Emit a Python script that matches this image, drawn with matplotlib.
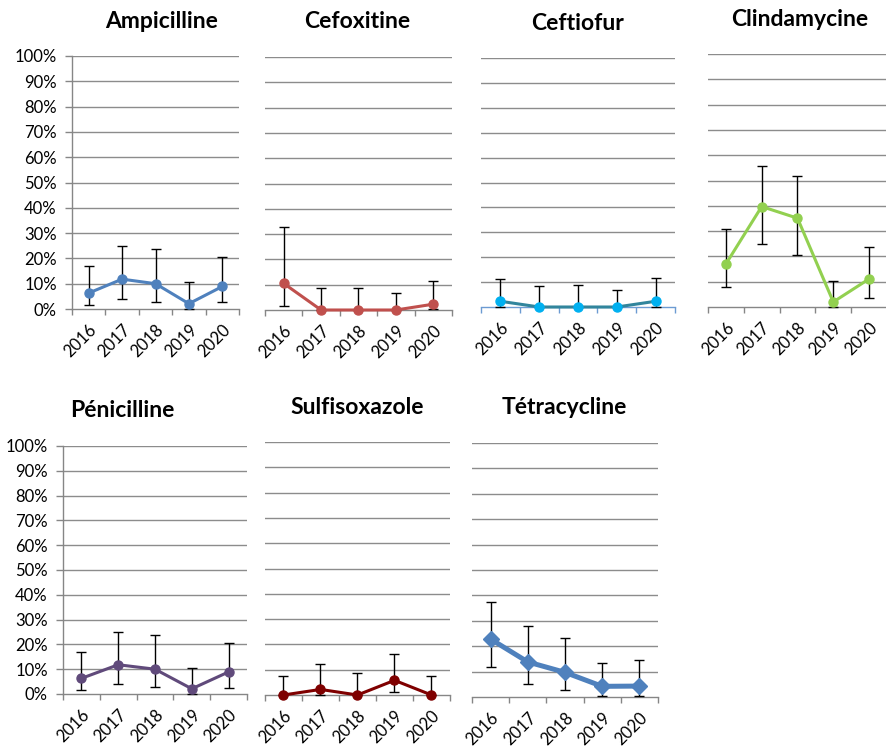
import matplotlib
matplotlib.use("Agg")
import matplotlib.pyplot as plt
from matplotlib.ticker import FixedLocator, FuncFormatter

W, H = 887, 747

years = ["2016", "2017", "2018", "2019", "2020"]

ampicilline = [0.063, 0.118, 0.100, 0.021, 0.089]
ampicilline_lo = [0.016, 0.040, 0.029, 0.000, 0.026]
ampicilline_hi = [0.171, 0.250, 0.238, 0.105, 0.207]

cefoxitine = [0.105, 0.000, 0.000, 0.000, 0.023]
cefoxitine_lo = [0.016, 0.000, 0.000, 0.000, 0.003]
cefoxitine_hi = [0.327, 0.088, 0.088, 0.069, 0.114]

ceftiofur = [0.023, 0.000, 0.000, 0.000, 0.023]
ceftiofur_lo = [0.000, 0.000, 0.000, 0.000, 0.000]
ceftiofur_hi = [0.111, 0.083, 0.088, 0.069, 0.116]

clindamycine = [0.170, 0.397, 0.351, 0.020, 0.111]
clindamycine_lo = [0.078, 0.249, 0.205, 0.000, 0.037]
clindamycine_hi = [0.308, 0.557, 0.517, 0.104, 0.236]

penicilline = [0.063, 0.118, 0.100, 0.021, 0.089]
penicilline_lo = [0.016, 0.040, 0.029, 0.000, 0.026]
penicilline_hi = [0.171, 0.250, 0.238, 0.105, 0.207]

sulfisoxazole = [0.000, 0.022, 0.000, 0.058, 0.000]
sulfisoxazole_lo = [0.000, 0.000, 0.000, 0.012, 0.000]
sulfisoxazole_hi = [0.075, 0.122, 0.087, 0.162, 0.076]

tetracycline = [0.228, 0.138, 0.097, 0.042, 0.043]
tetracycline_lo = [0.117, 0.050, 0.027, 0.005, 0.005]
tetracycline_hi = [0.373, 0.279, 0.234, 0.134, 0.147]

panels = [
    # title, values, lo, hi, line colour, marker colour, marker, lw, ms,
    # box (l, r, top, bottom), title centre x, ylabels, axis colour
    ("Ampicilline", ampicilline, ampicilline_lo, ampicilline_hi, "#4F81BD", "#4F81BD", "o", 2.2, 6.5, (72, 239, 56, 309), 162, True, "#868686"),
    ("Cefoxitine", cefoxitine, cefoxitine_lo, cefoxitine_hi, "#C0504D", "#C0504D", "o", 2.2, 6.5, (265, 452, 57, 310), 357, False, "#868686"),
    ("Ceftiofur", ceftiofur, ceftiofur_lo, ceftiofur_hi, "#31859C", "#00B0F0", "o", 2.2, 6.5, (481, 675, 58, 307), 578, False, "#6C9BD2"),
    ("Clindamycine", clindamycine, clindamycine_lo, clindamycine_hi, "#92D050", "#92D050", "o", 2.2, 6.5, (708, 887, 54, 307), 800, False, "#868686"),
    ("Pénicilline", penicilline, penicilline_lo, penicilline_hi, "#604A7B", "#604A7B", "o", 2.2, 6.5, (63, 247, 446, 694), 122, True, "#868686"),
    ("Sulfisoxazole", sulfisoxazole, sulfisoxazole_lo, sulfisoxazole_hi, "#7F0000", "#7F0000", "o", 2.2, 6.5, (265, 450, 442, 695), 357, False, "#868686"),
    ("Tétracycline", tetracycline, tetracycline_lo, tetracycline_hi, "#4F81BD", "#4F81BD", "D", 3.6, 8.0, (472, 658, 443, 697), 564, False, "#868686"),
]

FONT = ["Lato", "DejaVu Sans"]
plt.rcParams["font.family"] = FONT

fig = plt.figure(figsize=(W / 100, H / 100), dpi=100)
fig.patch.set_facecolor("white")

for (title, vals, lo, hi, lc, mc, mk, lw, ms, box, tx, ylabels, axc) in panels:
    l, r, t, b = box
    ax = fig.add_axes([l / W, 1 - b / H, (r - l) / W, (b - t) / H])
    x = list(range(len(years)))
    yerr = [[v - a for v, a in zip(vals, lo)], [c - v for v, c in zip(vals, hi)]]
    ax.errorbar(x, vals, yerr=yerr, fmt="none", ecolor="black", elinewidth=1.0,
                capsize=3.4, capthick=1.0, zorder=2, clip_on=False)
    ax.plot(x, vals, color=lc, lw=lw, marker=mk, ms=ms, markerfacecolor=mc,
            markeredgecolor=mc, zorder=3, clip_on=False)

    ax.set_xlim(-0.5, len(years) - 0.5)
    ax.set_ylim(0, 1)

    # horizontal gridlines for 10%..100%
    for g in [i / 10 for i in range(1, 11)]:
        ax.axhline(g, color="#8C8C8C", lw=1.0, zorder=1)

    for s in ["top", "right"]:
        ax.spines[s].set_visible(False)
    ax.spines["bottom"].set_color(axc)
    ax.spines["bottom"].set_linewidth(1.0)
    ax.spines["bottom"].set_zorder(1.5)

    ax.set_xticks(x)
    ax.set_xticklabels(years, rotation=45, ha="right", rotation_mode="anchor",
                       fontsize=12, color="black")
    ax.tick_params(axis="x", which="major", length=0, pad=9)
    ax.xaxis.set_minor_locator(FixedLocator([i - 0.5 for i in range(len(years) + 1)]))
    ax.tick_params(axis="x", which="minor", length=4, width=1.0, color=axc)

    ax.yaxis.set_major_locator(FixedLocator([i / 10 for i in range(11)]))
    if ylabels:
        ax.spines["left"].set_color("#868686")
        ax.spines["left"].set_linewidth(1.0)
        ax.yaxis.set_major_formatter(FuncFormatter(lambda v, p: f"{round(v * 100)}%"))
        ax.tick_params(axis="y", length=5, width=1.0, color="#868686", pad=6,
                       labelsize=12, labelcolor="black")
    else:
        ax.spines["left"].set_visible(False)
        ax.tick_params(axis="y", length=0, labelleft=False)

    ax.patch.set_alpha(0)
    fig.text(tx / W, 1 - (t - 35) / H, title, ha="center", va="center",
             fontsize=16.5, fontweight="bold", family=FONT)

fig.savefig("out.png", dpi=100, facecolor="white")
